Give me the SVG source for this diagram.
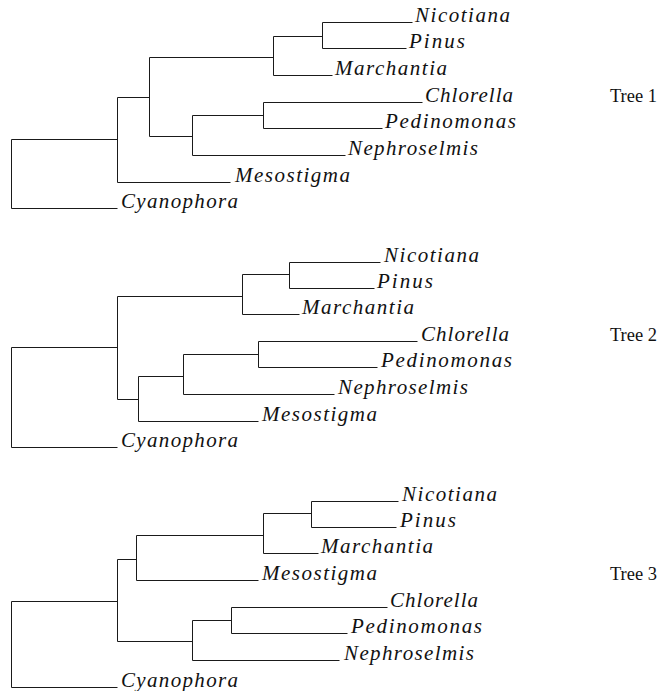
<svg xmlns="http://www.w3.org/2000/svg" width="672" height="691" viewBox="0 0 672 691">
<style>
.br{fill:none;stroke:#1a1a1a;stroke-width:1}
.lf{font-family:"Liberation Serif","Times New Roman",serif;font-style:italic;font-size:21px;fill:#111}
.tt{font-family:"Liberation Serif","Times New Roman",serif;font-size:18px;fill:#111}
</style>
<rect width="672" height="691" fill="#fff"/>
<g id="connectors" transform="translate(0.5,0.5)">
<g id="tree1-branches">
<path class="br" d="M117,139 H11 V208 H117"/>
<path class="br" d="M149,97 H117 V182 H230"/>
<path class="br" d="M273,57 H149 V136 H192"/>
<path class="br" d="M322,36 H273 V75 H332"/>
<path class="br" d="M412,22 H322 V48 H406"/>
<path class="br" d="M263,115 H192 V155 H345"/>
<path class="br" d="M422,102 H263 V128 H382"/>
</g>
<g id="tree2-branches">
<path class="br" d="M117,347 H11 V447 H117"/>
<path class="br" d="M242,296 H117 V399 H138"/>
<path class="br" d="M289,274 H242 V314 H299"/>
<path class="br" d="M380,262 H289 V288 H374"/>
<path class="br" d="M183,376 H138 V421 H258"/>
<path class="br" d="M258,354 H183 V394 H334"/>
<path class="br" d="M417,341 H258 V367 H377"/>
</g>
<g id="tree3-branches">
<path class="br" d="M117,601 H11 V687 H117"/>
<path class="br" d="M136,559 H117 V641 H192"/>
<path class="br" d="M263,535 H136 V580 H258"/>
<path class="br" d="M311,513 H263 V553 H318"/>
<path class="br" d="M398,501 H311 V527 H396"/>
<path class="br" d="M231,620 H192 V660 H339"/>
<path class="br" d="M387,607 H231 V633 H347"/>
</g>
</g>
<g id="tree1">
<g id="t1-nicotiana"><text class="lf" x="415" y="22" textLength="95" lengthAdjust="spacing">Nicotiana</text></g>
<g id="t1-pinus"><text class="lf" x="409" y="48" textLength="56" lengthAdjust="spacing">Pinus</text></g>
<g id="t1-marchantia"><text class="lf" x="335" y="75" textLength="112" lengthAdjust="spacing">Marchantia</text></g>
<g id="t1-chlorella"><text class="lf" x="425" y="102" textLength="88" lengthAdjust="spacing">Chlorella</text></g>
<g id="t1-pedinomonas"><text class="lf" x="385" y="128" textLength="131" lengthAdjust="spacing">Pedinomonas</text></g>
<g id="t1-nephroselmis"><text class="lf" x="348" y="155" textLength="130" lengthAdjust="spacing">Nephroselmis</text></g>
<g id="t1-mesostigma"><text class="lf" x="235" y="182" textLength="115" lengthAdjust="spacing">Mesostigma</text></g>
<g id="t1-cyanophora"><text class="lf" x="121" y="208" textLength="117" lengthAdjust="spacing">Cyanophora</text></g>
<g id="t1-label"><text class="tt" x="610" y="102" textLength="47" lengthAdjust="spacingAndGlyphs">Tree 1</text></g>
</g>
<g id="tree2">
<g id="t2-nicotiana"><text class="lf" x="384" y="262" textLength="95" lengthAdjust="spacing">Nicotiana</text></g>
<g id="t2-pinus"><text class="lf" x="377" y="288" textLength="56" lengthAdjust="spacing">Pinus</text></g>
<g id="t2-marchantia"><text class="lf" x="302" y="314" textLength="112" lengthAdjust="spacing">Marchantia</text></g>
<g id="t2-chlorella"><text class="lf" x="421" y="341" textLength="88" lengthAdjust="spacing">Chlorella</text></g>
<g id="t2-pedinomonas"><text class="lf" x="381" y="367" textLength="131" lengthAdjust="spacing">Pedinomonas</text></g>
<g id="t2-nephroselmis"><text class="lf" x="338" y="394" textLength="130" lengthAdjust="spacing">Nephroselmis</text></g>
<g id="t2-mesostigma"><text class="lf" x="262" y="421" textLength="115" lengthAdjust="spacing">Mesostigma</text></g>
<g id="t2-cyanophora"><text class="lf" x="121" y="447" textLength="117" lengthAdjust="spacing">Cyanophora</text></g>
<g id="t2-label"><text class="tt" x="610" y="341" textLength="47" lengthAdjust="spacingAndGlyphs">Tree 2</text></g>
</g>
<g id="tree3">
<g id="t3-nicotiana"><text class="lf" x="402" y="501" textLength="95" lengthAdjust="spacing">Nicotiana</text></g>
<g id="t3-pinus"><text class="lf" x="400" y="527" textLength="56" lengthAdjust="spacing">Pinus</text></g>
<g id="t3-marchantia"><text class="lf" x="321" y="553" textLength="112" lengthAdjust="spacing">Marchantia</text></g>
<g id="t3-mesostigma"><text class="lf" x="262" y="580" textLength="115" lengthAdjust="spacing">Mesostigma</text></g>
<g id="t3-chlorella"><text class="lf" x="390" y="607" textLength="88" lengthAdjust="spacing">Chlorella</text></g>
<g id="t3-pedinomonas"><text class="lf" x="351" y="633" textLength="131" lengthAdjust="spacing">Pedinomonas</text></g>
<g id="t3-nephroselmis"><text class="lf" x="344" y="660" textLength="130" lengthAdjust="spacing">Nephroselmis</text></g>
<g id="t3-cyanophora"><text class="lf" x="121" y="687" textLength="117" lengthAdjust="spacing">Cyanophora</text></g>
<g id="t3-label"><text class="tt" x="610" y="580" textLength="47" lengthAdjust="spacingAndGlyphs">Tree 3</text></g>
</g>
</svg>
